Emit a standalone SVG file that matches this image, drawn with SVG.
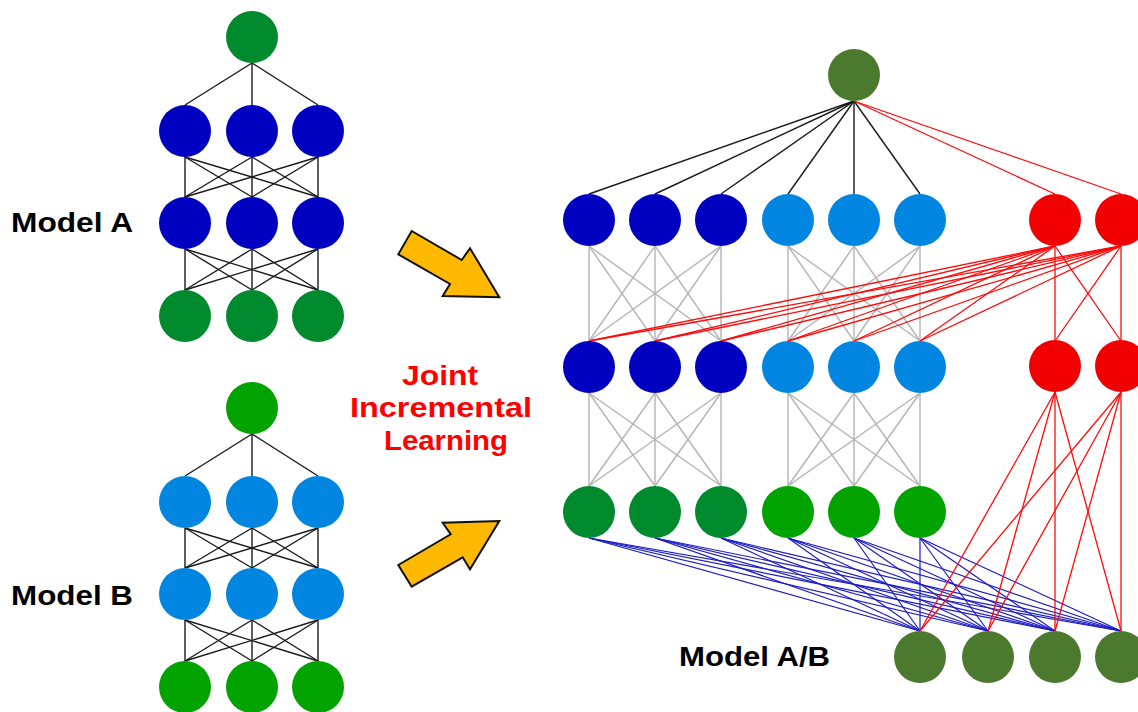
<svg xmlns="http://www.w3.org/2000/svg" width="1138" height="712" viewBox="0 0 1138 712">
  <style>
    .k { stroke: #1a1a1a; stroke-width: 1.4; }
    .g { stroke: #b4b4b4; stroke-width: 1.4; }
    .r { stroke: #ff0a0a; stroke-width: 1.3; }
    .b { stroke: #1c1cc4; stroke-width: 1.2; }
    .lbl { font-family: "Liberation Sans", Arial, sans-serif; font-weight: bold; font-size: 28px; fill: #000; }
    .jil { font-family: "Liberation Sans", Arial, sans-serif; font-weight: bold; font-size: 28px; fill: #ff0000; text-anchor: middle; }
    .arrow { fill: #ffb900; stroke: #111; stroke-width: 2; stroke-linejoin: miter; }
    .gA { fill: #008a2e; }
    .gB { fill: #00a300; }
    .bA { fill: #0000c0; }
    .bB { fill: #0085e0; }
    .ol { fill: #4b7a2f; }
    .rd { fill: #f20000; }
  </style>

  <!-- connectors -->
  <g id="connectors">
    <!-- Model A -->
    <g id="conn-model-a" class="k">
      <line x1="252" y1="63" x2="185" y2="105"/>
      <line x1="252" y1="63" x2="252" y2="105"/>
      <line x1="252" y1="63" x2="318" y2="105"/>
      <line x1="185" y1="157" x2="185" y2="197"/>
      <line x1="185" y1="157" x2="252" y2="197"/>
      <line x1="185" y1="157" x2="318" y2="197"/>
      <line x1="252" y1="157" x2="185" y2="197"/>
      <line x1="252" y1="157" x2="252" y2="197"/>
      <line x1="252" y1="157" x2="318" y2="197"/>
      <line x1="318" y1="157" x2="185" y2="197"/>
      <line x1="318" y1="157" x2="252" y2="197"/>
      <line x1="318" y1="157" x2="318" y2="197"/>
      <line x1="185" y1="249" x2="185" y2="290"/>
      <line x1="185" y1="249" x2="252" y2="290"/>
      <line x1="185" y1="249" x2="318" y2="290"/>
      <line x1="252" y1="249" x2="185" y2="290"/>
      <line x1="252" y1="249" x2="252" y2="290"/>
      <line x1="252" y1="249" x2="318" y2="290"/>
      <line x1="318" y1="249" x2="185" y2="290"/>
      <line x1="318" y1="249" x2="252" y2="290"/>
      <line x1="318" y1="249" x2="318" y2="290"/>
    </g>
    <!-- Model B -->
    <g id="conn-model-b" class="k">
      <line x1="252" y1="434" x2="185" y2="476"/>
      <line x1="252" y1="434" x2="252" y2="476"/>
      <line x1="252" y1="434" x2="318" y2="476"/>
      <line x1="185" y1="528" x2="185" y2="568"/>
      <line x1="185" y1="528" x2="252" y2="568"/>
      <line x1="185" y1="528" x2="318" y2="568"/>
      <line x1="252" y1="528" x2="185" y2="568"/>
      <line x1="252" y1="528" x2="252" y2="568"/>
      <line x1="252" y1="528" x2="318" y2="568"/>
      <line x1="318" y1="528" x2="185" y2="568"/>
      <line x1="318" y1="528" x2="252" y2="568"/>
      <line x1="318" y1="528" x2="318" y2="568"/>
      <line x1="185" y1="620" x2="185" y2="661"/>
      <line x1="185" y1="620" x2="252" y2="661"/>
      <line x1="185" y1="620" x2="318" y2="661"/>
      <line x1="252" y1="620" x2="185" y2="661"/>
      <line x1="252" y1="620" x2="252" y2="661"/>
      <line x1="252" y1="620" x2="318" y2="661"/>
      <line x1="318" y1="620" x2="185" y2="661"/>
      <line x1="318" y1="620" x2="252" y2="661"/>
      <line x1="318" y1="620" x2="318" y2="661"/>
    </g>
    <!-- Model A/B: grey inherited links -->
    <g id="conn-ab-grey" class="g">
      <line x1="589" y1="246" x2="589" y2="341"/>
      <line x1="589" y1="246" x2="655" y2="341"/>
      <line x1="589" y1="246" x2="721" y2="341"/>
      <line x1="655" y1="246" x2="589" y2="341"/>
      <line x1="655" y1="246" x2="655" y2="341"/>
      <line x1="655" y1="246" x2="721" y2="341"/>
      <line x1="721" y1="246" x2="589" y2="341"/>
      <line x1="721" y1="246" x2="655" y2="341"/>
      <line x1="721" y1="246" x2="721" y2="341"/>
      <line x1="788" y1="246" x2="788" y2="341"/>
      <line x1="788" y1="246" x2="854" y2="341"/>
      <line x1="788" y1="246" x2="920" y2="341"/>
      <line x1="854" y1="246" x2="788" y2="341"/>
      <line x1="854" y1="246" x2="854" y2="341"/>
      <line x1="854" y1="246" x2="920" y2="341"/>
      <line x1="920" y1="246" x2="788" y2="341"/>
      <line x1="920" y1="246" x2="854" y2="341"/>
      <line x1="920" y1="246" x2="920" y2="341"/>
      <line x1="589" y1="393" x2="589" y2="486"/>
      <line x1="589" y1="393" x2="655" y2="486"/>
      <line x1="589" y1="393" x2="721" y2="486"/>
      <line x1="655" y1="393" x2="589" y2="486"/>
      <line x1="655" y1="393" x2="655" y2="486"/>
      <line x1="655" y1="393" x2="721" y2="486"/>
      <line x1="721" y1="393" x2="589" y2="486"/>
      <line x1="721" y1="393" x2="655" y2="486"/>
      <line x1="721" y1="393" x2="721" y2="486"/>
      <line x1="788" y1="393" x2="788" y2="486"/>
      <line x1="788" y1="393" x2="854" y2="486"/>
      <line x1="788" y1="393" x2="920" y2="486"/>
      <line x1="854" y1="393" x2="788" y2="486"/>
      <line x1="854" y1="393" x2="854" y2="486"/>
      <line x1="854" y1="393" x2="920" y2="486"/>
      <line x1="920" y1="393" x2="788" y2="486"/>
      <line x1="920" y1="393" x2="854" y2="486"/>
      <line x1="920" y1="393" x2="920" y2="486"/>
    </g>
    <!-- Model A/B: output to hidden layer -->
    <g id="conn-ab-top" class="k">
      <line x1="854" y1="101" x2="589" y2="194"/>
      <line x1="854" y1="101" x2="655" y2="194"/>
      <line x1="854" y1="101" x2="721" y2="194"/>
      <line x1="854" y1="101" x2="788" y2="194"/>
      <line x1="854" y1="101" x2="854" y2="194"/>
      <line x1="854" y1="101" x2="920" y2="194"/>
    </g>
    <!-- Model A/B: new input links -->
    <g id="conn-ab-blue" class="b">
      <line x1="589" y1="538" x2="920" y2="631"/>
      <line x1="589" y1="538" x2="988" y2="631"/>
      <line x1="589" y1="538" x2="1055" y2="631"/>
      <line x1="589" y1="538" x2="1121" y2="631"/>
      <line x1="655" y1="538" x2="920" y2="631"/>
      <line x1="655" y1="538" x2="988" y2="631"/>
      <line x1="655" y1="538" x2="1055" y2="631"/>
      <line x1="655" y1="538" x2="1121" y2="631"/>
      <line x1="721" y1="538" x2="920" y2="631"/>
      <line x1="721" y1="538" x2="988" y2="631"/>
      <line x1="721" y1="538" x2="1055" y2="631"/>
      <line x1="721" y1="538" x2="1121" y2="631"/>
      <line x1="788" y1="538" x2="920" y2="631"/>
      <line x1="788" y1="538" x2="988" y2="631"/>
      <line x1="788" y1="538" x2="1055" y2="631"/>
      <line x1="788" y1="538" x2="1121" y2="631"/>
      <line x1="854" y1="538" x2="920" y2="631"/>
      <line x1="854" y1="538" x2="988" y2="631"/>
      <line x1="854" y1="538" x2="1055" y2="631"/>
      <line x1="854" y1="538" x2="1121" y2="631"/>
      <line x1="920" y1="538" x2="920" y2="631"/>
      <line x1="920" y1="538" x2="988" y2="631"/>
      <line x1="920" y1="538" x2="1055" y2="631"/>
      <line x1="920" y1="538" x2="1121" y2="631"/>
    </g>
    <!-- Model A/B: new red units -->
    <g id="conn-ab-red" class="r">
      <line x1="854" y1="101" x2="1055" y2="194"/>
      <line x1="854" y1="101" x2="1121" y2="194"/>
      <line x1="1055" y1="246" x2="589" y2="341"/>
      <line x1="1055" y1="246" x2="655" y2="341"/>
      <line x1="1055" y1="246" x2="721" y2="341"/>
      <line x1="1055" y1="246" x2="788" y2="341"/>
      <line x1="1055" y1="246" x2="854" y2="341"/>
      <line x1="1055" y1="246" x2="920" y2="341"/>
      <line x1="1055" y1="246" x2="1055" y2="341"/>
      <line x1="1055" y1="246" x2="1121" y2="341"/>
      <line x1="1121" y1="246" x2="589" y2="341"/>
      <line x1="1121" y1="246" x2="655" y2="341"/>
      <line x1="1121" y1="246" x2="721" y2="341"/>
      <line x1="1121" y1="246" x2="788" y2="341"/>
      <line x1="1121" y1="246" x2="854" y2="341"/>
      <line x1="1121" y1="246" x2="920" y2="341"/>
      <line x1="1121" y1="246" x2="1055" y2="341"/>
      <line x1="1121" y1="246" x2="1121" y2="341"/>
      <line x1="1055" y1="392" x2="920" y2="631"/>
      <line x1="1055" y1="392" x2="988" y2="631"/>
      <line x1="1055" y1="392" x2="1055" y2="631"/>
      <line x1="1055" y1="392" x2="1121" y2="631"/>
      <line x1="1121" y1="392" x2="920" y2="631"/>
      <line x1="1121" y1="392" x2="988" y2="631"/>
      <line x1="1121" y1="392" x2="1055" y2="631"/>
      <line x1="1121" y1="392" x2="1121" y2="631"/>
    </g>
  </g>

  <!-- Model A nodes -->
  <g id="model-a">
    <circle class="gA" cx="252" cy="37" r="26"/>
    <circle class="bA" cx="185" cy="131" r="26"/>
    <circle class="bA" cx="252" cy="131" r="26"/>
    <circle class="bA" cx="318" cy="131" r="26"/>
    <circle class="bA" cx="185" cy="223" r="26"/>
    <circle class="bA" cx="252" cy="223" r="26"/>
    <circle class="bA" cx="318" cy="223" r="26"/>
    <circle class="gA" cx="185" cy="316" r="26"/>
    <circle class="gA" cx="252" cy="316" r="26"/>
    <circle class="gA" cx="318" cy="316" r="26"/>
  </g>

  <!-- Model B nodes -->
  <g id="model-b">
    <circle class="gB" cx="252" cy="408" r="26"/>
    <circle class="bB" cx="185" cy="502" r="26"/>
    <circle class="bB" cx="252" cy="502" r="26"/>
    <circle class="bB" cx="318" cy="502" r="26"/>
    <circle class="bB" cx="185" cy="594" r="26"/>
    <circle class="bB" cx="252" cy="594" r="26"/>
    <circle class="bB" cx="318" cy="594" r="26"/>
    <circle class="gB" cx="185" cy="687" r="26"/>
    <circle class="gB" cx="252" cy="687" r="26"/>
    <circle class="gB" cx="318" cy="687" r="26"/>
  </g>

  <!-- Model A/B nodes -->
  <g id="model-ab">
    <circle class="ol" cx="854" cy="75" r="26"/>
    <circle class="bA" cx="589" cy="220" r="26"/>
    <circle class="bA" cx="655" cy="220" r="26"/>
    <circle class="bA" cx="721" cy="220" r="26"/>
    <circle class="bB" cx="788" cy="220" r="26"/>
    <circle class="bB" cx="854" cy="220" r="26"/>
    <circle class="bB" cx="920" cy="220" r="26"/>
    <circle class="rd" cx="1055" cy="220" r="26"/>
    <circle class="rd" cx="1121" cy="220" r="26"/>
    <circle class="bA" cx="589" cy="367" r="26"/>
    <circle class="bA" cx="655" cy="367" r="26"/>
    <circle class="bA" cx="721" cy="367" r="26"/>
    <circle class="bB" cx="788" cy="367" r="26"/>
    <circle class="bB" cx="854" cy="367" r="26"/>
    <circle class="bB" cx="920" cy="367" r="26"/>
    <circle class="rd" cx="1055" cy="366" r="26"/>
    <circle class="rd" cx="1121" cy="366" r="26"/>
    <circle class="gA" cx="589" cy="512" r="26"/>
    <circle class="gA" cx="655" cy="512" r="26"/>
    <circle class="gA" cx="721" cy="512" r="26"/>
    <circle class="gB" cx="788" cy="512" r="26"/>
    <circle class="gB" cx="854" cy="512" r="26"/>
    <circle class="gB" cx="920" cy="512" r="26"/>
    <circle class="ol" cx="920" cy="657" r="26"/>
    <circle class="ol" cx="988" cy="657" r="26"/>
    <circle class="ol" cx="1055" cy="657" r="26"/>
    <circle class="ol" cx="1121" cy="657" r="26"/>
  </g>

  <!-- merge arrows -->
  <g id="arrow-top">
    <polygon class="arrow" points="411.7,231 461.7,260 470,248.3 499.3,297.3 442.7,296 450,284 398.3,254.3"/>
  </g>
  <g id="arrow-bottom">
    <polygon class="arrow" points="398.3,565 450.7,534.3 442.7,522.7 499.3,521 470,569.3 462.7,557.3 411.7,586.7"/>
  </g>

  <!-- labels -->
  <g id="labels">
    <text class="lbl" x="11" y="232" textLength="122" lengthAdjust="spacingAndGlyphs">Model A</text>
    <text class="lbl" x="11" y="605" textLength="122" lengthAdjust="spacingAndGlyphs">Model B</text>
    <text class="lbl" x="679" y="666" textLength="151" lengthAdjust="spacingAndGlyphs">Model A/B</text>
    <text class="jil" x="440" y="385" textLength="76" lengthAdjust="spacingAndGlyphs">Joint</text>
    <text class="jil" x="441" y="417" textLength="182" lengthAdjust="spacingAndGlyphs">Incremental</text>
    <text class="jil" x="446" y="450" textLength="124" lengthAdjust="spacingAndGlyphs">Learning</text>
  </g>
</svg>
